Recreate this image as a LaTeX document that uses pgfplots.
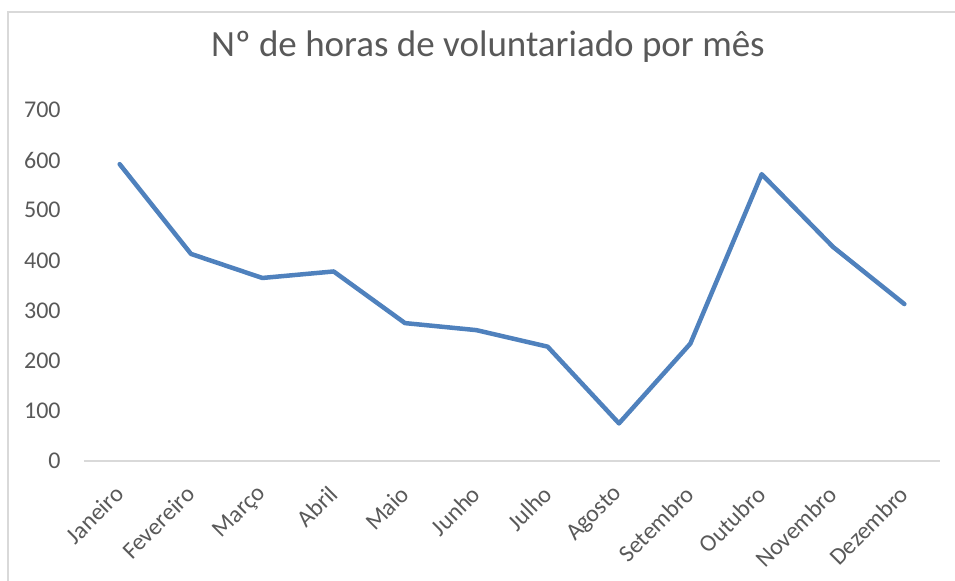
\documentclass[border=0pt]{standalone}
\usepackage{fontspec}
\setmainfont{Carlito}
\usepackage{pgfplots}
\pgfplotsset{compat=1.18}

\definecolor{serie}{RGB}{79,129,189}
\definecolor{txt}{RGB}{89,89,89}
\definecolor{grade}{RGB}{217,217,217}

\begin{document}
\begin{tikzpicture}
% image frame: 955x581 px at 0.5pt/px, axis box corner at (84,461) px
\useasboundingbox (-42pt,-60pt) rectangle (435.5pt,230.5pt);
\draw[grade, line width=0.6pt] (-38pt,-61pt) -- (-38pt,224.5pt) -- (436pt,224.5pt);
\begin{axis}[
  at={(0,0)}, anchor=south west,
  scale only axis,
  width=428pt, height=175.5pt,
  xmin=-0.5, xmax=11.5,
  ymin=0, ymax=700,
  xtick={0,...,11},
  xticklabels={Janeiro, Fevereiro, Março, Abril, Maio, Junho, Julho, Agosto, Setembro, Outubro, Novembro, Dezembro},
  ytick={0,100,...,700},
  axis lines=left,
  x axis line style={-, draw=grade, line width=0.75pt},
  y axis line style={draw=none},
  major tick length=0pt,
  /pgf/number format/assume math mode=true,
  ticklabel style={font=\fontsize{12}{14}\selectfont, text=txt},
  yticklabel style={anchor=east, inner sep=0pt, xshift=-11.5pt},
  xticklabel style={yshift=-14.5pt, rotate=45, anchor=east, inner sep=0pt},
  title={Nº de horas de voluntariado por mês},
  title style={at={(0.5,1)}, anchor=base, xshift=-12pt, yshift=21pt,
    font=\fontsize{18.5}{22}\selectfont, text=txt},
  clip=false,
]
\addplot[serie, line width=2.25pt, line join=round, line cap=round, mark=none]
  coordinates {(0,592) (1,413) (2,365) (3,378) (4,275) (5,261) (6,228) (7,75) (8,234) (9,572) (10,427) (11,313)};
\end{axis}
\end{tikzpicture}
\end{document}
